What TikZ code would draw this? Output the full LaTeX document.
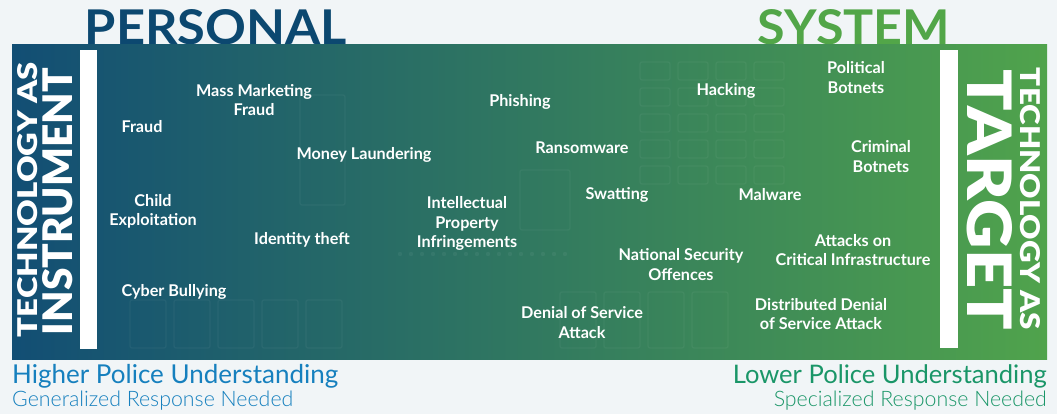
\documentclass[tikz,border=0pt]{standalone}
\usepackage{fontspec}
\setmainfont{Lato}
\newfontfamily\heavy{Lato Black}
\newfontfamily\light{Lato Light}
\usepackage{graphicx}
\usepackage{tikz}
\usetikzlibrary{positioning}
\definecolor{persblue}{RGB}{12,72,112}
\definecolor{sysgreen}{RGB}{82,166,72}
\definecolor{highblue}{RGB}{22,128,190}
\definecolor{lowgreen}{RGB}{26,150,104}
\definecolor{panelL}{RGB}{18,78,116}
\definecolor{panelM}{RGB}{34,122,106}
\definecolor{panelR}{RGB}{80,163,76}
\definecolor{paper}{RGB}{241,245,247}

\begin{document}
\begin{tikzpicture}[x=1pt, y=-1pt, every node/.style={inner sep=0pt},
  crime/.style={text=white, align=center,
    font=\fontsize{16.2}{19.5}\selectfont\bfseries},
  board/.style={draw=white, draw opacity=0.045, line width=1.4pt, rounded corners=2pt}]
\useasboundingbox (0,0) rectangle (1057,414);
\fill[paper] (0,0) rectangle (1057,414);
% ---- headings above the band
\node[text=persblue] (personal) at (216,27.5)
  {\resizebox{262pt}{35pt}{\bfseries PERSONAL}};
\node[text=sysgreen] (system) at (854,27.5)
  {\resizebox{192pt}{35pt}{\bfseries SYSTEM}};
% ---- the band, blue to green
\shade[left color=panelL, middle color=panelM, right color=panelR]
  (12,45) rectangle (1047,359);
% faint circuit board behind the labels
\foreach \i in {0,...,3}
  \foreach \j in {0,...,4}
    \draw[board] (640+\i*38,62+\j*26) rectangle ++(30,18);
\foreach \i in {0,...,4}
  \draw[board] (130+\i*44,300) rectangle ++(36,48);
\foreach \i in {0,...,3}
  \draw[board] (560+\i*44,292) rectangle ++(36,56);
\foreach \i in {0,...,15}
  \fill[white, opacity=0.05] (400+\i*11,254) circle (2.2pt);
\draw[board] (300,95) rectangle (345,205);
\draw[board] (520,170) rectangle (570,230);
% ---- side bars
\fill[white] (80,50) rectangle (97,349);
\fill[white] (940,50) rectangle (958,348);
% ---- side titles
\node[rotate=90, text=white] (techL) at (28,199.5)
  {\resizebox{275pt}{20pt}{\heavy TECHNOLOGY AS}};
\node[rotate=90, text=white] (instrument) at (58,201.5)
  {\resizebox{267pt}{30pt}{\heavy INSTRUMENT}};
\node[rotate=-90, text=white] (techR) at (1030,199)
  {\resizebox{262pt}{20pt}{\heavy TECHNOLOGY AS}};
\node[rotate=-90, text=white] (target) at (989.5,200)
  {\resizebox{260pt}{45pt}{\heavy TARGET}};
% ---- crimes, personal side
\node[crime] (massmkt) at (254,100) {Mass Marketing\\Fraud};
\node[crime] (fraud) at (142,127) {Fraud};
\node[crime] (laundering) at (364,155) {Money Laundering};
\node[crime] (child) at (153,211.5) {Child\\Exploitation};
\node[crime] (identity) at (302,240) {Identity theft};
\node[crime] (bullying) at (174,292) {Cyber Bullying};
% ---- crimes, middle
\node[crime] (phishing) at (520,102) {Phishing};
\node[crime] (ransom) at (582,148) {Ransomware};
\node[crime] (ip) at (467,223.5) {Intellectual\\Property\\Infringements};
\node[crime] (swatting) at (617,195) {Swatting};
\node[crime] (natsec) at (681,264.5) {National Security\\Offences};
\node[crime] (dos) at (582,322.5) {Denial of Service\\Attack};
% ---- crimes, system side
\node[crime] (hacking) at (726,91) {Hacking};
\node[crime] (polbot) at (856,77.5) {Political\\Botnets};
\node[crime] (crimbot) at (881,156.5) {Criminal\\Botnets};
\node[crime] (malware) at (770,195) {Malware};
\node[crime] (infra) at (853,250) {Attacks on\\Critical Infrastructure};
\node[crime] (ddos) at (821,314) {Distributed Denial\\of Service Attack};
% ---- understanding, below the band
\node[anchor=base west, text=highblue] (higher) at (12,383)
  {\resizebox{326pt}{!}{Higher Police Understanding}};
\node[anchor=base west, text=highblue] (general) at (12,406)
  {\resizebox{281pt}{!}{\light Generalized Response Needed}};
\node[anchor=base east, text=lowgreen] (lower) at (1047,383)
  {\resizebox{314pt}{!}{Lower Police Understanding}};
\node[anchor=base east, text=lowgreen] (special) at (1047,406)
  {\resizebox{273pt}{!}{\light Specialized Response Needed}};
\end{tikzpicture}
\end{document}
